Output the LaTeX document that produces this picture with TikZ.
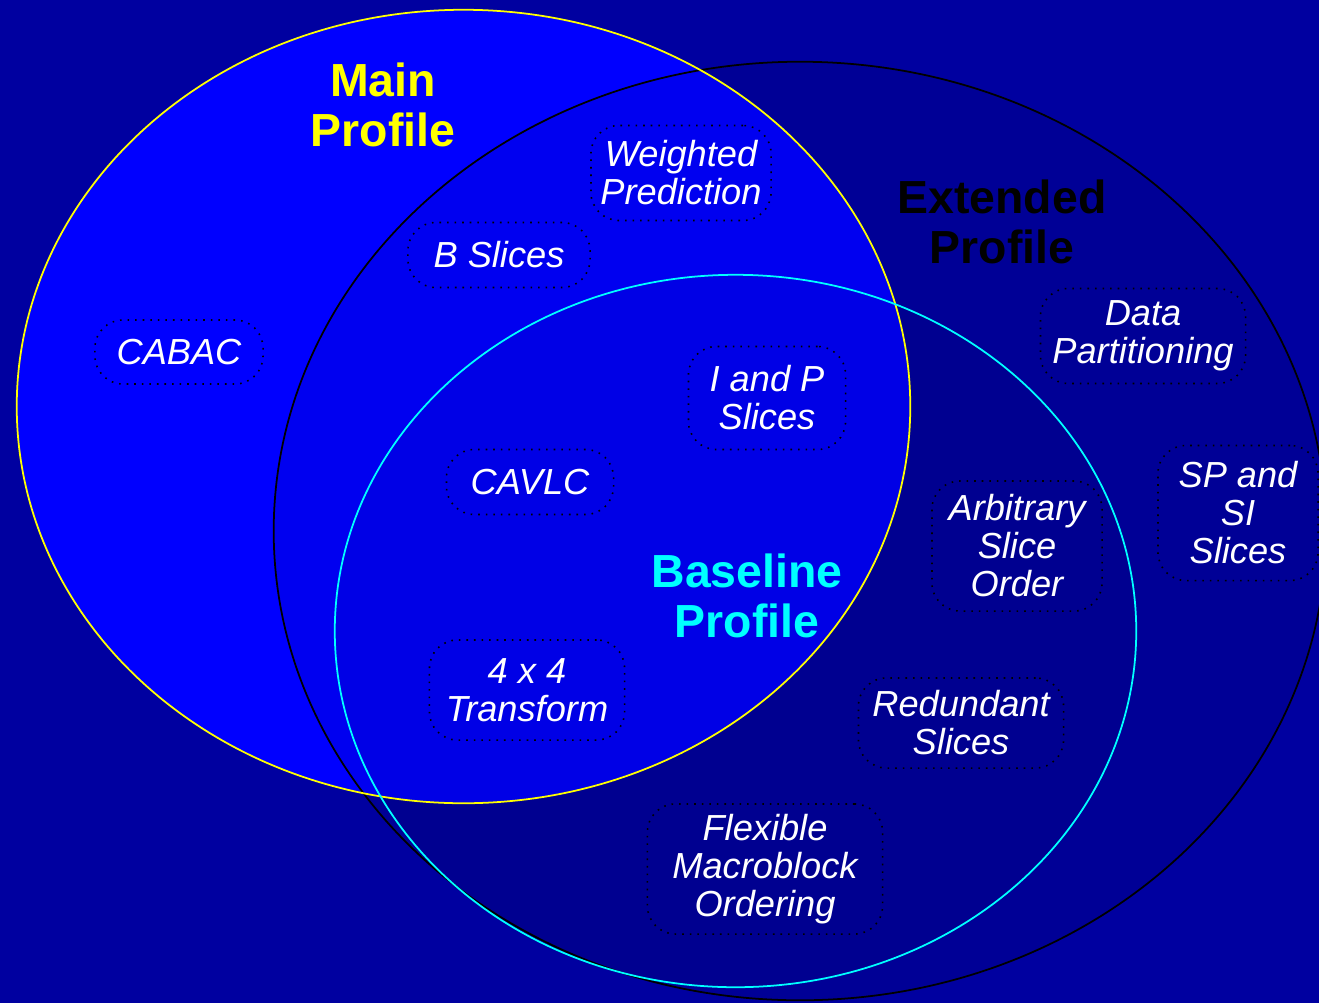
\documentclass[tikz,border=0pt]{standalone}
\usepackage{fontspec}
\setmainfont{Liberation Sans}
\definecolor{bgblue}{HTML}{0000A0}
\definecolor{mainblue}{HTML}{0000FF}
\definecolor{titleyellow}{HTML}{FFFF00}
\definecolor{titlecyan}{HTML}{00FFFF}
\tikzset{
  feat/.style={draw=black, line width=0.45pt, dash pattern=on 0.45pt off 1.7pt,
    rounded corners=0.28cm,
    text=white, align=center, inner sep=0pt,
    font=\fontsize{10.3}{10.8}\selectfont\itshape},
  ptitle/.style={align=center, inner sep=0pt,
    font=\fontsize{13.2}{14}\selectfont\bfseries},
  ring/.style={line width=0.5pt}
}
\begin{document}
\begin{tikzpicture}[x=0.01cm,y=-0.01cm]
  \useasboundingbox (0,0) rectangle (1319,1003);
  \fill[bgblue] (0,0) rectangle (1319,1003);
  \begin{scope}
    \clip (0,0) rectangle (1319,1003);
    % fills
    \fill[mainblue] (463.5,406.5) ellipse [x radius=4.465cm, y radius=3.965cm];
    \fill[black, fill opacity=0.06] (800,531) ellipse [x radius=5.26cm, y radius=4.69cm];
    \fill[black, fill opacity=0.04] (735.5,631) ellipse [x radius=4.005cm, y radius=3.56cm];
    % outlines
    \draw[ring, black] (800,531) ellipse [x radius=5.26cm, y radius=4.69cm];
    \draw[ring, titleyellow] (463.5,406.5) ellipse [x radius=4.465cm, y radius=3.965cm];
    \draw[ring, titlecyan] (735.5,631) ellipse [x radius=4.005cm, y radius=3.56cm];
  \end{scope}

  % titles
  \node[ptitle, text=titleyellow] (tmain) at (383,105) {Main\\Profile};
  \node[ptitle, text=black] (text) at (1002,222) {Extended\\Profile};
  \node[ptitle, text=titlecyan] (tbase) at (747,596) {Baseline\\Profile};

  % features
  \node[feat, minimum width=1.68cm, minimum height=0.64cm] (cabac) at (179,352) {CABAC};
  \node[feat, minimum width=1.82cm, minimum height=0.65cm] (bsl) at (499,255) {B Slices};
  \node[feat, minimum width=1.80cm, minimum height=0.95cm] (wp) at (681,173) {Weighted\\Prediction};
  \node[feat, minimum width=1.57cm, minimum height=1.03cm] (ip) at (767,398) {I and P\\Slices};
  \node[feat, minimum width=1.67cm, minimum height=0.65cm] (cavlc) at (530,482) {CAVLC};
  \node[feat, minimum width=1.95cm, minimum height=1.00cm] (tr) at (527,690) {4 x 4\\Transform};
  \node[feat, minimum width=2.05cm, minimum height=0.95cm] (dp) at (1143,336) {Data\\Partitioning};
  \node[feat, minimum width=1.60cm, minimum height=1.35cm] (spsi) at (1238,513) {SP and\\SI\\Slices};
  \node[feat, minimum width=1.70cm, minimum height=1.30cm] (aso) at (1017,546) {Arbitrary\\Slice\\Order};
  \node[feat, minimum width=2.05cm, minimum height=0.90cm] (rs) at (961,723) {Redundant\\Slices};
  \node[feat, minimum width=2.35cm, minimum height=1.30cm] (fmo) at (765,869) {Flexible\\Macroblock\\Ordering};
\end{tikzpicture}
\end{document}
